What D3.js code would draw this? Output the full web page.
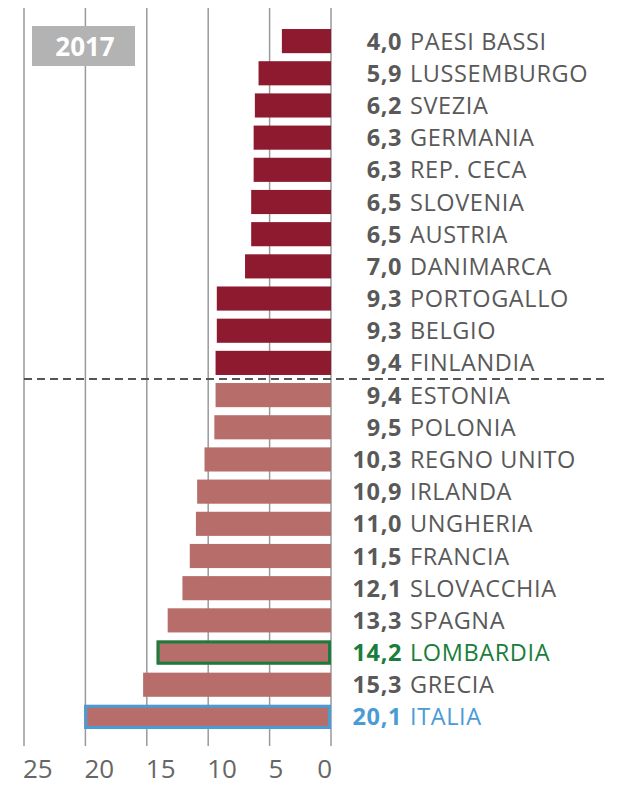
<!DOCTYPE html>
<html>
<head>
<meta charset="utf-8">
<script src="https://cdn.jsdelivr.net/npm/d3@7"></script>
<style>
  body { margin: 0; background: #fff; }
  text { font-family: "Open Sans", sans-serif; }
</style>
</head>
<body>
<script>
var svgWidth = 620;
var svgHeight = 786;

// data
var countries = ["PAESI BASSI", "LUSSEMBURGO", "SVEZIA", "GERMANIA", "REP. CECA", "SLOVENIA",
    "AUSTRIA", "DANIMARCA", "PORTOGALLO", "BELGIO", "FINLANDIA", "ESTONIA", "POLONIA",
    "REGNO UNITO", "IRLANDA", "UNGHERIA", "FRANCIA", "SLOVACCHIA", "SPAGNA", "LOMBARDIA",
    "GRECIA", "ITALIA"];
var values = [4.0, 5.9, 6.2, 6.3, 6.3, 6.5, 6.5, 7.0, 9.3, 9.3, 9.4, 9.4, 9.5,
    10.3, 10.9, 11.0, 11.5, 12.1, 13.3, 14.2, 15.3, 20.1];
var topGroupSize = 11; // first 11 rows in dark colour, above the dashed line
var tickValues = [25, 20, 15, 10, 5, 0];
var yearLabel = "2017";

var dataset = countries.map(function(c, i) { return { name: c, value: values[i], index: i }; });

var svg = d3.select("body").append("svg").attr("width", svgWidth).attr("height", svgHeight);

var x = d3.scaleLinear().domain([0, 25]).range([331, 24]);
var y = d3.scaleBand().domain(countries).range([25, 733]).paddingInner(0.25).paddingOuter(0.125);

function barColor(d) { return d.index < topGroupSize ? "#8e1a30" : "#b76e6b"; }
function textColor(d) {
    if (d.name === "LOMBARDIA") return "#1b7d3c";
    if (d.name === "ITALIA") return "#4a9bd6";
    return "#595959";
}

// gridlines
svg.selectAll("line.grid").data(tickValues).join("line")
    .attr("class", "grid")
    .attr("x1", function(d) { return x(d); })
    .attr("x2", function(d) { return x(d); })
    .attr("y1", 8)
    .attr("y2", 746)
    .attr("stroke", "#9a9a9a")
    .attr("stroke-width", 1.5);

// tick labels: start-aligned on their gridline, the last one ends on it
svg.selectAll("text.tick").data(tickValues).join("text")
    .attr("class", "tick")
    .attr("x", function(d, i) { return i === tickValues.length - 1 ? x(d) + 1 : x(d) - 1; })
    .attr("y", 778)
    .attr("text-anchor", function(d, i) { return i === tickValues.length - 1 ? "end" : "start"; })
    .attr("font-size", 26)
    .attr("fill", "#666")
    .text(function(d) { return d; });

// year box
svg.append("rect")
    .attr("x", 32).attr("y", 26).attr("width", 103).attr("height", 40)
    .attr("fill", "#b3b3b3");
svg.append("text")
    .attr("x", 85).attr("y", 56)
    .attr("text-anchor", "middle")
    .attr("font-size", 26)
    .attr("font-weight", "bold")
    .attr("fill", "#fff")
    .text(yearLabel);

// bars
svg.selectAll("rect.bar").data(dataset).join("rect")
    .attr("class", "bar")
    .attr("x", function(d) { return x(d.value); })
    .attr("y", function(d) { return y(d.name); })
    .attr("width", function(d) { return x(0) - x(d.value); })
    .attr("height", y.bandwidth())
    .attr("fill", barColor);

// highlight boxes
var highlights = dataset.filter(function(d) { return d.name === "LOMBARDIA" || d.name === "ITALIA"; });
svg.selectAll("rect.hl").data(highlights).join("rect")
    .attr("class", "hl")
    .attr("x", function(d) { return x(d.value) + 1.5; })
    .attr("y", function(d) { return y(d.name) + 1.5; })
    .attr("width", function(d) { return x(0) - x(d.value) - 3; })
    .attr("height", y.bandwidth() - 3)
    .attr("fill", "none")
    .attr("stroke", textColor)
    .attr("stroke-width", 3);

// dashed separator
var sepY = (y(countries[topGroupSize - 1]) + y.bandwidth() + y(countries[topGroupSize])) / 2;
svg.append("line")
    .attr("x1", 24).attr("x2", 608)
    .attr("y1", sepY).attr("y2", sepY)
    .attr("stroke", "#555")
    .attr("stroke-width", 1.8)
    .attr("stroke-dasharray", "8,5");

// labels
var labels = svg.selectAll("g.label").data(dataset).join("g")
    .attr("class", "label")
    .attr("transform", function(d) { return "translate(0," + (y(d.name) + y.bandwidth() / 2 + 8.5) + ")"; });

labels.append("text")
    .attr("x", 402)
    .attr("text-anchor", "end")
    .attr("font-size", 23.5)
    .attr("letter-spacing", 0.6)
    .attr("font-weight", "bold")
    .attr("fill", textColor)
    .text(function(d) { return d.value.toFixed(1).replace(".", ","); });

labels.append("text")
    .attr("x", 410)
    .attr("font-size", 23.5)
    .attr("letter-spacing", 0.6)
    .attr("fill", textColor)
    .text(function(d) { return d.name; });
</script>
</body>
</html>
